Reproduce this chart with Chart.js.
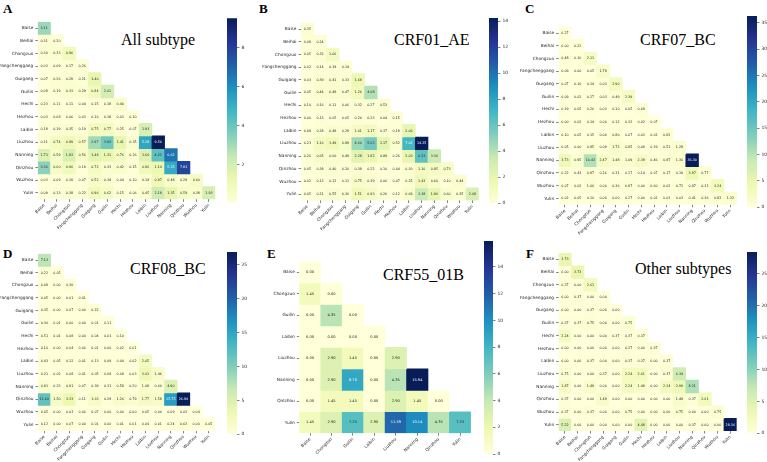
<!DOCTYPE html>
<html>
<head>
<meta charset="utf-8">
<script src="https://cdn.jsdelivr.net/npm/chart.js@4.4.1/dist/chart.umd.min.js"></script>
<style>
  body { margin: 0; width: 767px; height: 462px; background: #fff; position: relative; overflow: hidden; }
  canvas { position: absolute; }
  .lbl { position: absolute; font-family: "Liberation Serif", "Times New Roman", serif; color: #000; white-space: nowrap; line-height: 1; }
  .big { font-weight: bold; font-size: 13px; }
  .ttl { font-size: 16px; }
</style>
</head>
<body>
<div class="lbl big" style="left:3px;top:1.8px">A</div>
<div class="lbl big" style="left:259px;top:1.8px">B</div>
<div class="lbl big" style="left:525px;top:2.4px">C</div>
<div class="lbl big" style="left:3px;top:246.6px">D</div>
<div class="lbl big" style="left:267px;top:246.8px">E</div>
<div class="lbl big" style="left:526px;top:246.8px">F</div>
<div class="lbl ttl" style="left:121px;top:31.6px">All subtype</div>
<div class="lbl ttl" style="left:394px;top:31.6px">CRF01_AE</div>
<div class="lbl ttl" style="left:640px;top:31.6px">CRF07_BC</div>
<div class="lbl ttl" style="left:130px;top:261px">CRF08_BC</div>
<div class="lbl ttl" style="left:383px;top:266.6px">CRF55_01B</div>
<div class="lbl ttl" style="left:635px;top:261px">Other subtypes</div>
<script>
// Villes (14) et villes du panneau E (8)
const cities14 = ["Baise", "Beihai", "Chongzuo", "Fangchenggang", "Guigang", "Guilin", "Hechi",
  "Hezhou", "Laibin", "Liuzhou", "Nanning", "Qinzhou", "Wuzhou", "Yulin"];
const cities8 = ["Baise", "Chongzuo", "Guilin", "Laibin", "Liuzhou", "Nanning", "Qinzhou", "Yulin"];

// Valeurs (triangle inférieur, ligne par ligne)
const allSubtype = [
  [3.11],
  [0.31, 0.20],
  [0.30, 0.33, 0.96],
  [0.03, 0.09, 0.17, 0.26],
  [0.07, 0.26, 0.29, 0.21, 1.40],
  [0.09, 0.19, 0.33, 0.29, 0.84, 2.01],
  [0.23, 0.11, 0.11, 0.04, 0.15, 0.18, 0.40],
  [0.03, 0.08, 0.06, 0.03, 0.16, 0.18, 0.03, 0.10],
  [0.18, 0.19, 0.35, 0.19, 0.75, 0.77, 0.25, 0.07, 1.93],
  [0.21, 0.74, 0.99, 0.57, 2.97, 3.83, 1.41, 0.35, 5.28, 9.50],
  [1.73, 0.59, 1.83, 0.56, 1.48, 1.31, 0.76, 0.26, 1.66, 4.22, 6.62],
  [3.36, 0.60, 0.96, 0.19, 0.72, 0.33, 0.42, 0.15, 0.96, 1.14, 5.15, 7.83],
  [0.03, 0.09, 0.19, 0.07, 0.52, 0.34, 0.04, 0.10, 0.18, 0.97, 0.48, 0.28, 0.60],
  [0.09, 0.13, 0.38, 0.22, 0.96, 0.62, 0.15, 0.06, 0.45, 2.18, 1.35, 0.59, 0.38, 1.93]
];
const crf01AE = [
  [0.35],
  [0.08, 0.24],
  [0.05, 0.32, 1.06],
  [0.02, 0.14, 0.19, 0.14],
  [0.03, 0.39, 0.41, 0.33, 1.69],
  [0.05, 0.44, 0.48, 0.47, 1.26, 4.08],
  [0.10, 0.16, 0.11, 0.06, 0.32, 0.27, 0.53],
  [0.00, 0.13, 0.05, 0.05, 0.20, 0.23, 0.04, 0.15],
  [0.09, 0.28, 0.48, 0.29, 1.01, 1.17, 0.37, 0.19, 2.06],
  [0.23, 1.16, 1.49, 0.89, 4.60, 5.63, 2.17, 0.52, 7.02, 14.25],
  [0.26, 0.65, 0.60, 0.49, 2.28, 1.82, 0.89, 0.26, 2.03, 6.23, 3.36],
  [0.05, 0.38, 0.40, 0.20, 0.39, 0.22, 0.10, 0.04, 0.30, 1.10, 0.95, 0.73],
  [0.02, 0.13, 0.12, 0.11, 0.75, 0.39, 0.06, 0.07, 0.25, 1.43, 0.60, 0.10, 0.44],
  [0.05, 0.21, 0.55, 0.36, 1.51, 0.93, 0.26, 0.12, 0.69, 3.38, 1.96, 0.60, 0.35, 2.68]
];
const crf07BC = [
  [0.27],
  [0.00, 0.22],
  [0.48, 0.10, 2.11],
  [0.09, 0.00, 0.05, 1.79],
  [0.07, 0.10, 0.14, 0.03, 2.90],
  [0.09, 0.02, 0.27, 0.03, 0.49, 2.39],
  [0.19, 0.05, 0.26, 0.03, 0.10, 0.05, 0.69],
  [0.00, 0.02, 0.14, 0.00, 0.12, 0.32, 0.02, 0.07],
  [0.10, 0.05, 0.15, 0.00, 0.80, 0.07, 0.03, 0.02, 0.82],
  [0.05, 0.00, 0.85, 0.09, 1.72, 0.85, 0.09, 0.19, 0.51, 1.28],
  [3.73, 0.95, 10.43, 2.47, 1.48, 1.09, 2.39, 0.46, 0.87, 1.30, 36.30],
  [0.22, 0.43, 0.87, 0.26, 0.31, 0.17, 0.14, 0.07, 0.17, 0.19, 3.97, 0.77],
  [0.07, 0.02, 1.06, 0.00, 0.36, 0.97, 0.00, 0.60, 0.02, 0.72, 0.87, 0.32, 3.24],
  [0.02, 0.05, 0.10, 0.00, 0.00, 0.27, 0.00, 0.02, 0.03, 0.03, 0.41, 0.36, 0.82, 1.32]
];
const crf08BC = [
  [7.13],
  [0.22, 0.05],
  [0.08, 0.00, 0.30],
  [0.05, 0.00, 0.01, 0.01],
  [0.35, 0.00, 0.07, 0.00, 0.22],
  [0.30, 0.01, 0.00, 0.00, 0.01, 0.11],
  [0.51, 0.01, 0.08, 0.00, 0.04, 0.01, 0.10],
  [0.10, 0.00, 0.04, 0.00, 0.01, 0.00, 0.02, 0.01],
  [0.43, 0.05, 0.12, 0.01, 0.13, 0.09, 0.04, 0.02, 2.05],
  [0.21, 0.02, 0.08, 0.01, 0.05, 0.08, 0.08, 0.03, 3.01, 1.46],
  [0.91, 0.23, 0.91, 0.07, 0.39, 0.31, 0.58, 0.20, 1.08, 0.60, 4.90],
  [11.60, 1.50, 3.33, 0.11, 1.63, 0.28, 1.26, 0.79, 1.77, 1.58, 15.75, 26.84],
  [0.05, 0.00, 0.03, 0.00, 0.07, 0.00, 0.00, 0.00, 0.05, 0.00, 0.09, 0.03, 0.04],
  [0.12, 0.00, 0.07, 0.00, 0.01, 0.00, 0.01, 0.01, 0.04, 0.01, 0.24, 0.63, 0.00, 0.05]
];
const crf55_01B = [
  [0.00],
  [1.45, 0.00],
  [0.00, 4.35, 0.00],
  [0.00, 0.00, 0.00, 0.00],
  [0.00, 2.90, 1.45, 0.00, 2.90],
  [0.00, 2.90, 8.70, 0.00, 4.35, 15.94],
  [0.00, 1.45, 1.45, 0.00, 2.90, 1.45, 0.00],
  [1.45, 2.90, 7.25, 2.90, 11.59, 10.14, 4.35, 7.25]
];
const otherSubtypes = [
  [3.73],
  [0.00, 3.73],
  [0.37, 0.00, 2.61],
  [0.00, 0.37, 0.00, 0.00],
  [0.00, 0.00, 0.37, 0.00, 0.00],
  [0.37, 0.37, 0.75, 0.00, 0.00, 0.75],
  [2.24, 0.00, 0.00, 0.00, 0.37, 0.37, 0.37],
  [0.00, 0.00, 0.00, 0.00, 0.00, 0.37, 0.00, 0.37],
  [0.00, 0.00, 0.37, 0.00, 0.00, 0.37, 0.37, 0.00, 0.37],
  [0.75, 0.00, 0.00, 0.37, 0.00, 2.24, 2.61, 0.00, 0.37, 6.34],
  [1.87, 0.00, 1.49, 0.00, 0.00, 2.24, 1.49, 0.00, 2.24, 2.99, 8.21],
  [0.37, 0.00, 0.00, 1.49, 0.00, 0.00, 0.00, 0.00, 0.00, 1.49, 0.37, 2.61],
  [0.37, 0.00, 0.37, 0.00, 0.00, 0.75, 0.00, 0.00, 0.00, 0.75, 0.00, 0.00, 0.75],
  [5.22, 0.00, 0.00, 0.00, 0.00, 0.00, 4.48, 0.00, 0.00, 0.00, 0.37, 0.00, 0.00, 28.36]
];

// Graduations des barres de couleur
const ticksA = [2, 4, 6, 8];
const ticksB = [0, 2, 4, 6, 8, 10, 12, 14];
const ticksC = [0, 5, 10, 15, 20, 25, 30, 35];
const ticksD = [0, 5, 10, 15, 20, 25];
const ticksE = [0, 2, 4, 6, 8, 10, 12, 14];
const ticksF = [0, 5, 10, 15, 20, 25];

// Palette YlGnBu
const ylgnbu = ["#ffffd9", "#edf8b1", "#c7e9b4", "#7fcdbb", "#41b6c4", "#1d91c0", "#225ea8", "#253494", "#081d58"];
const ylgnbuRgb = ylgnbu.map(h => [1, 3, 5].map(k => parseInt(h.substr(k, 2), 16)));

function cmap(t) {
  t = Math.max(0, Math.min(1, t));
  const s = t * 8;
  const i = Math.min(7, Math.floor(s));
  const f = s - i;
  const a = ylgnbuRgb[i], b = ylgnbuRgb[i + 1];
  return [0, 1, 2].map(k => a[k] + (b[k] - a[k]) * f);
}
const rgbStr = c => `rgb(${c.map(Math.round).join(",")})`;
function luminance(c) {
  const l = c.map(v => { v /= 255; return v <= 0.03928 ? v / 12.92 : Math.pow((v + 0.055) / 1.055, 2.4); });
  return 0.2126 * l[0] + 0.7152 * l[1] + 0.0722 * l[2];
}

const tickFont = { family: "DejaVu Sans", size: 4.3 };
const textColor = "#262626";

function heatmap(cfg) {
  const n = cfg.cities.length;
  const YW = 42, XH = 40, PR = 6, PB = 2;
  const left = Math.floor(cfg.x0 - YW - 2);
  const top = Math.floor(cfg.y0 - 6);
  const PL = cfg.x0 - YW - left;
  const PT = cfg.y0 - top;
  const canvas = document.createElement("canvas");
  canvas.width = Math.ceil(PL + YW + n * cfg.cell + PR);
  canvas.height = Math.ceil(PT + n * cfg.cell + XH + PB);
  canvas.style.left = left + "px";
  canvas.style.top = top + "px";
  document.body.appendChild(canvas);
  const PRr = canvas.width - (PL + YW + n * cfg.cell);
  const PBr = canvas.height - (PT + n * cfg.cell + XH);

  const flat = cfg.values.flat();
  const vmin = Math.min(...flat), vmax = Math.max(...flat);
  const colorOf = v => cmap((v - vmin) / (vmax - vmin));

  const datasets = cfg.values.map((row, i) => ({
    data: cfg.cities.map((c, j) => (j <= i ? [i - 0.5, i + 0.5] : null)),
    vals: row,
    backgroundColor: ctx => rgbStr(colorOf(row[ctx.dataIndex] ?? 0)),
    borderWidth: 0,
    barPercentage: 1,
    categoryPercentage: 1,
    grouped: false
  }));

  // Texte des cellules
  const annot = {
    id: "annot",
    afterDatasetsDraw(chart) {
      const ctx = chart.ctx;
      ctx.save();
      ctx.font = `${cfg.cellFont}px "DejaVu Sans"`;
      ctx.textAlign = "center";
      ctx.textBaseline = "middle";
      chart.data.datasets.forEach((ds, i) => {
        chart.getDatasetMeta(i).data.forEach((el, j) => {
          if (ds.data[j] == null) return;
          const v = ds.vals[j];
          ctx.fillStyle = luminance(colorOf(v)) > 0.408 ? textColor : "#fff";
          const p = el.getCenterPoint();
          ctx.fillText(v.toFixed(2), p.x, p.y);
        });
      });
      ctx.restore();
    }
  };

  new Chart(canvas, {
    type: "bar",
    data: { labels: cfg.cities, datasets },
    options: {
      responsive: false,
      animation: false,
      devicePixelRatio: 1,
      layout: { padding: { left: PL, top: PT, right: PRr, bottom: PBr } },
      plugins: { legend: { display: false }, tooltip: { enabled: false } },
      scales: {
        x: {
          ticks: { font: tickFont, color: textColor, minRotation: 45, maxRotation: 45, autoSkip: false, padding: 1 },
          grid: { drawOnChartArea: false, offset: false, tickLength: 2.5, tickWidth: 0.6, tickColor: "#333" },
          border: { display: false },
          afterFit: s => { s.height = XH; }
        },
        y: {
          type: "linear",
          reverse: true,
          min: -0.5,
          max: n - 0.5,
          afterBuildTicks: s => { s.ticks = cfg.cities.map((c, i) => ({ value: i })); },
          ticks: { font: tickFont, color: textColor, autoSkip: false, padding: 2, callback: v => cfg.cities[v] },
          grid: { drawOnChartArea: false, tickLength: 2.5, tickWidth: 0.6, tickColor: "#333" },
          border: { display: false },
          afterFit: s => { s.width = YW; }
        }
      }
    },
    plugins: [annot]
  });
  return { vmin, vmax };
}

function colorbar(cfg) {
  const RW = 18;
  const left = Math.floor(cfg.x0 - 2);
  const top = Math.floor(cfg.top - 6);
  const PL = cfg.x0 - left;
  const PT = cfg.top - top;
  const canvas = document.createElement("canvas");
  canvas.width = Math.ceil(PL + (cfg.x1 - cfg.x0) + RW + 2);
  canvas.height = Math.ceil(PT + (cfg.bottom - cfg.top) + 6);
  canvas.style.left = left + "px";
  canvas.style.top = top + "px";
  document.body.appendChild(canvas);
  const PRr = canvas.width - (PL + (cfg.x1 - cfg.x0) + RW);
  const PBr = canvas.height - (PT + (cfg.bottom - cfg.top));
  const { vmin, vmax } = cfg.range;

  new Chart(canvas, {
    type: "bar",
    data: {
      labels: [""],
      datasets: [{
        data: [[vmin, vmax]],
        backgroundColor: ctx => {
          const chart = ctx.chart;
          if (!chart.chartArea) return ylgnbu[0];
          const ys = chart.scales.y;
          const g = chart.ctx.createLinearGradient(0, ys.getPixelForValue(vmin), 0, ys.getPixelForValue(vmax));
          ylgnbu.forEach((c, i) => g.addColorStop(i / 8, c));
          return g;
        },
        borderWidth: 0,
        barPercentage: 1,
        categoryPercentage: 1
      }]
    },
    options: {
      responsive: false,
      animation: false,
      devicePixelRatio: 1,
      layout: { padding: { left: PL, top: PT, right: PRr, bottom: PBr } },
      plugins: { legend: { display: false }, tooltip: { enabled: false } },
      scales: {
        x: { display: false },
        y: {
          position: "right",
          min: vmin,
          max: vmax,
          afterBuildTicks: s => { s.ticks = cfg.ticks.map(v => ({ value: v })); },
          ticks: { font: { family: "DejaVu Sans", size: 4.5 }, color: textColor, padding: 2 },
          grid: { drawOnChartArea: false, tickLength: 2.5, tickWidth: 0.6, tickColor: "#333" },
          border: { display: false },
          afterFit: s => { s.width = RW; }
        }
      }
    }
  });
}

const rA = heatmap({ cities: cities14, values: allSubtype, x0: 37.8, y0: 21.8, cell: 12.68, cellFont: 3.3 });
colorbar({ range: rA, ticks: ticksA, x0: 227, x1: 237, top: 18.3, bottom: 203 });

const rB = heatmap({ cities: cities14, values: crf01AE, x0: 301, y0: 22.7, cell: 12.7, cellFont: 3.3 });
colorbar({ range: rB, ticks: ticksB, x0: 489, x1: 498, top: 18, bottom: 203.3 });

const rC = heatmap({ cities: cities14, values: crf07BC, x0: 558.6, y0: 26.7, cell: 12.72, cellFont: 3.3 });
colorbar({ range: rC, ticks: ticksC, x0: 747, x1: 757, top: 16, bottom: 207.3 });

const rD = heatmap({ cities: cities14, values: crf08BC, x0: 38, y0: 253.7, cell: 12.65, cellFont: 3.3 });
colorbar({ range: rD, ticks: ticksD, x0: 227, x1: 237, top: 252, bottom: 434.3 });

const rE = heatmap({ cities: cities8, values: crf55_01B, x0: 299.3, y0: 261.6, cell: 21.45, cellFont: 3.6 });
colorbar({ range: rE, ticks: ticksE, x0: 484, x1: 493, top: 241, bottom: 454 });

const rF = heatmap({ cities: cities14, values: otherSubtypes, x0: 558.6, y0: 253, cell: 12.72, cellFont: 3.3 });
colorbar({ range: rF, ticks: ticksF, x0: 747, x1: 757, top: 252, bottom: 433.3 });
</script>
</body>
</html>
